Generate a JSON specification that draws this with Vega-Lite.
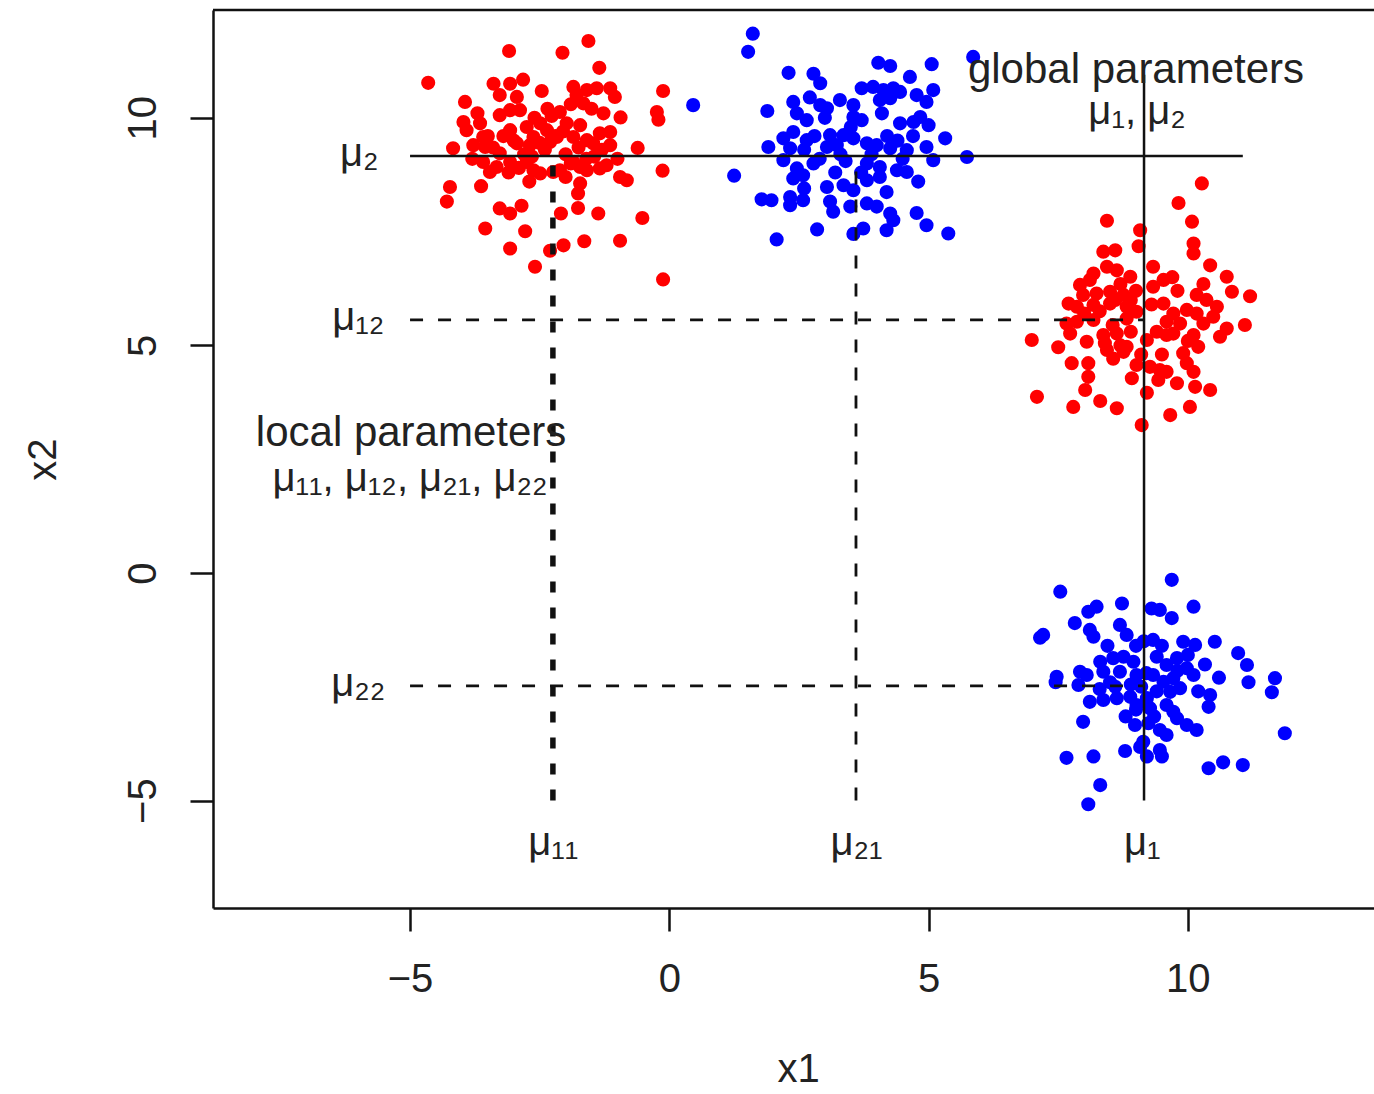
{
  "$schema": "https://vega.github.io/schema/vega-lite/v6.json",
  "width": 1161,
  "height": 898,
  "autosize": {"type": "none"},
  "padding": {"left": 213, "top": 10, "right": 0, "bottom": 186},
  "background": "white",
  "config": {"view": {"stroke": null}},
  "datasets": {
    "points": [
      {"x1":-4.65,"x2":10.77,"class":"1"},{"x1":-3.09,"x2":11.47,"class":"1"},{"x1":-2.06,"x2":11.43,"class":"1"},{"x1":-1.56,"x2":11.69,"class":"1"},{"x1":-1.35,"x2":11.10,"class":"1"},{"x1":-0.12,"x2":10.59,"class":"1"},{"x1":-0.24,"x2":10.13,"class":"1"},{"x1":-0.21,"x2":9.96,"class":"1"},{"x1":-3.94,"x2":10.35,"class":"1"},{"x1":-3.39,"x2":10.75,"class":"1"},{"x1":-3.07,"x2":10.75,"class":"1"},{"x1":-2.82,"x2":10.84,"class":"1"},{"x1":-3.27,"x2":10.50,"class":"1"},{"x1":-2.94,"x2":10.46,"class":"1"},{"x1":-2.46,"x2":10.59,"class":"1"},{"x1":-1.85,"x2":10.68,"class":"1"},{"x1":-1.59,"x2":10.61,"class":"1"},{"x1":-1.40,"x2":10.65,"class":"1"},{"x1":-1.79,"x2":10.50,"class":"1"},{"x1":-1.66,"x2":10.32,"class":"1"},{"x1":-1.14,"x2":10.65,"class":"1"},{"x1":-1.05,"x2":10.46,"class":"1"},{"x1":-1.27,"x2":10.10,"class":"1"},{"x1":-0.94,"x2":10.01,"class":"1"},{"x1":-2.11,"x2":10.13,"class":"1"},{"x1":-2.27,"x2":10.04,"class":"1"},{"x1":-3.97,"x2":9.91,"class":"1"},{"x1":-3.65,"x2":9.88,"class":"1"},{"x1":-3.27,"x2":10.06,"class":"1"},{"x1":-3.07,"x2":10.17,"class":"1"},{"x1":-2.88,"x2":10.17,"class":"1"},{"x1":-3.91,"x2":9.73,"class":"1"},{"x1":-3.59,"x2":9.58,"class":"1"},{"x1":-3.07,"x2":9.73,"class":"1"},{"x1":-2.75,"x2":9.80,"class":"1"},{"x1":-2.49,"x2":9.88,"class":"1"},{"x1":-2.36,"x2":9.73,"class":"1"},{"x1":-1.98,"x2":9.88,"class":"1"},{"x1":-1.72,"x2":9.84,"class":"1"},{"x1":-1.34,"x2":9.66,"class":"1"},{"x1":-1.14,"x2":9.69,"class":"1"},{"x1":-4.17,"x2":9.33,"class":"1"},{"x1":-3.78,"x2":9.40,"class":"1"},{"x1":-3.55,"x2":9.36,"class":"1"},{"x1":-3.27,"x2":9.22,"class":"1"},{"x1":-2.94,"x2":9.44,"class":"1"},{"x1":-2.62,"x2":9.58,"class":"1"},{"x1":-2.69,"x2":9.40,"class":"1"},{"x1":-2.30,"x2":9.47,"class":"1"},{"x1":-2.17,"x2":9.58,"class":"1"},{"x1":-1.85,"x2":9.58,"class":"1"},{"x1":-1.59,"x2":9.51,"class":"1"},{"x1":-1.47,"x2":9.44,"class":"1"},{"x1":-1.14,"x2":9.40,"class":"1"},{"x1":-0.61,"x2":9.34,"class":"1"},{"x1":-3.59,"x2":9.03,"class":"1"},{"x1":-3.33,"x2":8.92,"class":"1"},{"x1":-3.46,"x2":8.81,"class":"1"},{"x1":-3.07,"x2":9.03,"class":"1"},{"x1":-2.75,"x2":9.03,"class":"1"},{"x1":-2.62,"x2":8.85,"class":"1"},{"x1":-2.49,"x2":8.78,"class":"1"},{"x1":-2.24,"x2":8.81,"class":"1"},{"x1":-2.11,"x2":8.85,"class":"1"},{"x1":-1.85,"x2":9.03,"class":"1"},{"x1":-1.72,"x2":8.92,"class":"1"},{"x1":-1.59,"x2":8.85,"class":"1"},{"x1":-1.34,"x2":8.89,"class":"1"},{"x1":-1.21,"x2":8.96,"class":"1"},{"x1":-0.95,"x2":8.70,"class":"1"},{"x1":-0.82,"x2":8.63,"class":"1"},{"x1":-0.13,"x2":8.84,"class":"1"},{"x1":-4.23,"x2":8.48,"class":"1"},{"x1":-4.29,"x2":8.16,"class":"1"},{"x1":-3.63,"x2":8.50,"class":"1"},{"x1":-1.72,"x2":8.56,"class":"1"},{"x1":-1.76,"x2":8.34,"class":"1"},{"x1":-3.27,"x2":8.01,"class":"1"},{"x1":-3.07,"x2":7.90,"class":"1"},{"x1":-2.85,"x2":8.07,"class":"1"},{"x1":-2.09,"x2":7.90,"class":"1"},{"x1":-1.76,"x2":8.02,"class":"1"},{"x1":-1.37,"x2":7.90,"class":"1"},{"x1":-0.52,"x2":7.80,"class":"1"},{"x1":-3.55,"x2":7.57,"class":"1"},{"x1":-2.78,"x2":7.51,"class":"1"},{"x1":-3.07,"x2":7.13,"class":"1"},{"x1":-2.30,"x2":7.08,"class":"1"},{"x1":-2.04,"x2":7.20,"class":"1"},{"x1":-1.64,"x2":7.29,"class":"1"},{"x1":-0.95,"x2":7.30,"class":"1"},{"x1":-2.59,"x2":6.73,"class":"1"},{"x1":-0.12,"x2":6.45,"class":"1"},{"x1":-2.4,"x2":9.3,"class":"1"},{"x1":-2.0,"x2":9.2,"class":"1"},{"x1":-1.6,"x2":9.1,"class":"1"},{"x1":-2.8,"x2":9.2,"class":"1"},{"x1":-3.5,"x2":9.6,"class":"1"},{"x1":-1.3,"x2":9.3,"class":"1"},{"x1":-2.2,"x2":9.6,"class":"1"},{"x1":-3.0,"x2":9.5,"class":"1"},{"x1":-1.9,"x2":9.0,"class":"1"},{"x1":-2.6,"x2":10.0,"class":"1"},{"x1":-3.8,"x2":9.1,"class":"1"},{"x1":-2.9,"x2":8.9,"class":"1"},
      {"x1":-3.2,"x2":9.6,"class":"1"},{"x1":-2.5,"x2":9.45,"class":"1"},{"x1":-1.75,"x2":9.35,"class":"1"},{"x1":-2.05,"x2":9.7,"class":"1"},{"x1":-2.65,"x2":9.15,"class":"1"},{"x1":-3.4,"x2":9.35,"class":"1"},{"x1":-1.45,"x2":9.15,"class":"1"},{"x1":-2.35,"x2":10.2,"class":"1"},{"x1":-1.9,"x2":10.3,"class":"1"},{"x1":-3.1,"x2":8.8,"class":"1"},{"x1":-2.0,"x2":8.7,"class":"1"},{"x1":-1.0,"x2":9.1,"class":"1"},{"x1":-1.5,"x2":10.2,"class":"1"},{"x1":-3.7,"x2":10.1,"class":"1"},{"x1":-2.7,"x2":8.6,"class":"1"},
      {"x1":1.61,"x2":11.85,"class":"2"},{"x1":1.52,"x2":11.45,"class":"2"},{"x1":0.46,"x2":10.28,"class":"2"},{"x1":1.25,"x2":8.73,"class":"2"},{"x1":1.89,"x2":10.15,"class":"2"},{"x1":2.30,"x2":10.99,"class":"2"},{"x1":2.78,"x2":10.97,"class":"2"},{"x1":2.91,"x2":10.76,"class":"2"},{"x1":4.03,"x2":11.21,"class":"2"},{"x1":4.26,"x2":11.14,"class":"2"},{"x1":5.06,"x2":11.18,"class":"2"},{"x1":4.64,"x2":10.90,"class":"2"},{"x1":5.86,"x2":11.34,"class":"2"},{"x1":2.39,"x2":10.35,"class":"2"},{"x1":2.71,"x2":10.45,"class":"2"},{"x1":2.91,"x2":10.28,"class":"2"},{"x1":3.04,"x2":10.21,"class":"2"},{"x1":3.29,"x2":10.39,"class":"2"},{"x1":3.55,"x2":10.28,"class":"2"},{"x1":3.71,"x2":10.65,"class":"2"},{"x1":3.93,"x2":10.68,"class":"2"},{"x1":4.13,"x2":10.61,"class":"2"},{"x1":4.32,"x2":10.65,"class":"2"},{"x1":4.45,"x2":10.57,"class":"2"},{"x1":4.06,"x2":10.39,"class":"2"},{"x1":4.26,"x2":10.43,"class":"2"},{"x1":4.77,"x2":10.50,"class":"2"},{"x1":4.96,"x2":10.35,"class":"2"},{"x1":5.09,"x2":10.61,"class":"2"},{"x1":2.46,"x2":10.10,"class":"2"},{"x1":2.65,"x2":9.95,"class":"2"},{"x1":3.55,"x2":10.02,"class":"2"},{"x1":3.71,"x2":9.95,"class":"2"},{"x1":4.45,"x2":9.88,"class":"2"},{"x1":4.71,"x2":9.91,"class":"2"},{"x1":4.84,"x2":10.02,"class":"2"},{"x1":5.00,"x2":9.84,"class":"2"},{"x1":2.39,"x2":9.69,"class":"2"},{"x1":2.65,"x2":9.51,"class":"2"},{"x1":3.10,"x2":9.62,"class":"2"},{"x1":3.36,"x2":9.62,"class":"2"},{"x1":3.55,"x2":9.55,"class":"2"},{"x1":3.81,"x2":9.44,"class":"2"},{"x1":4.00,"x2":9.40,"class":"2"},{"x1":1.91,"x2":9.36,"class":"2"},{"x1":2.33,"x2":9.33,"class":"2"},{"x1":3.04,"x2":9.36,"class":"2"},{"x1":3.23,"x2":9.40,"class":"2"},{"x1":4.26,"x2":9.33,"class":"2"},{"x1":4.58,"x2":9.29,"class":"2"},{"x1":4.96,"x2":9.36,"class":"2"},{"x1":5.32,"x2":9.55,"class":"2"},{"x1":5.74,"x2":9.14,"class":"2"},{"x1":2.20,"x2":9.07,"class":"2"},{"x1":2.46,"x2":8.89,"class":"2"},{"x1":2.78,"x2":9.00,"class":"2"},{"x1":3.81,"x2":9.00,"class":"2"},{"x1":4.06,"x2":8.92,"class":"2"},{"x1":4.39,"x2":8.85,"class":"2"},{"x1":4.58,"x2":8.81,"class":"2"},{"x1":5.09,"x2":9.07,"class":"2"},{"x1":2.39,"x2":8.67,"class":"2"},{"x1":2.58,"x2":8.74,"class":"2"},{"x1":3.04,"x2":8.48,"class":"2"},{"x1":3.36,"x2":8.52,"class":"2"},{"x1":3.55,"x2":8.41,"class":"2"},{"x1":3.81,"x2":8.63,"class":"2"},{"x1":4.06,"x2":8.70,"class":"2"},{"x1":4.19,"x2":8.37,"class":"2"},{"x1":1.78,"x2":8.21,"class":"2"},{"x1":1.97,"x2":8.19,"class":"2"},{"x1":2.33,"x2":8.26,"class":"2"},{"x1":2.58,"x2":8.19,"class":"2"},{"x1":2.33,"x2":8.08,"class":"2"},{"x1":3.10,"x2":8.16,"class":"2"},{"x1":3.16,"x2":7.94,"class":"2"},{"x1":3.49,"x2":8.05,"class":"2"},{"x1":3.81,"x2":8.12,"class":"2"},{"x1":4.00,"x2":8.05,"class":"2"},{"x1":4.26,"x2":7.90,"class":"2"},{"x1":4.32,"x2":7.75,"class":"2"},{"x1":4.19,"x2":7.53,"class":"2"},{"x1":4.77,"x2":7.91,"class":"2"},{"x1":4.96,"x2":7.64,"class":"2"},{"x1":5.38,"x2":7.46,"class":"2"},{"x1":2.85,"x2":7.55,"class":"2"},{"x1":2.07,"x2":7.33,"class":"2"},{"x1":3.74,"x2":7.57,"class":"2"},{"x1":3.55,"x2":7.45,"class":"2"},{"x1":3.3,"x2":9.2,"class":"2"},{"x1":2.9,"x2":9.1,"class":"2"},{"x1":3.9,"x2":9.2,"class":"2"},{"x1":4.5,"x2":9.1,"class":"2"},{"x1":2.6,"x2":9.3,"class":"2"},{"x1":4.2,"x2":9.6,"class":"2"},
      {"x1":2.8,"x2":9.6,"class":"2"},{"x1":3.5,"x2":9.8,"class":"2"},{"x1":4.1,"x2":10.1,"class":"2"},{"x1":3.2,"x2":8.8,"class":"2"},{"x1":2.6,"x2":8.45,"class":"2"},{"x1":4.7,"x2":9.6,"class":"2"},{"x1":3.7,"x2":8.8,"class":"2"},{"x1":3.0,"x2":10.0,"class":"2"},{"x1":4.4,"x2":9.5,"class":"2"},{"x1":2.2,"x2":9.55,"class":"2"},{"x1":3.4,"x2":9.05,"class":"2"},{"x1":4.8,"x2":8.6,"class":"2"},
      {"x1":10.27,"x2":8.56,"class":"1"},{"x1":9.82,"x2":8.13,"class":"1"},{"x1":8.44,"x2":7.74,"class":"1"},{"x1":9.08,"x2":7.53,"class":"1"},{"x1":10.08,"x2":7.72,"class":"1"},{"x1":9.05,"x2":7.18,"class":"1"},{"x1":10.11,"x2":7.24,"class":"1"},{"x1":10.11,"x2":7.02,"class":"1"},{"x1":8.37,"x2":7.06,"class":"1"},{"x1":8.60,"x2":7.09,"class":"1"},{"x1":10.43,"x2":6.76,"class":"1"},{"x1":8.44,"x2":6.73,"class":"1"},{"x1":8.63,"x2":6.65,"class":"1"},{"x1":8.18,"x2":6.58,"class":"1"},{"x1":9.33,"x2":6.73,"class":"1"},{"x1":10.75,"x2":6.51,"class":"1"},{"x1":7.92,"x2":6.33,"class":"1"},{"x1":8.11,"x2":6.44,"class":"1"},{"x1":8.89,"x2":6.51,"class":"1"},{"x1":9.53,"x2":6.44,"class":"1"},{"x1":9.33,"x2":6.29,"class":"1"},{"x1":10.85,"x2":6.18,"class":"1"},{"x1":11.20,"x2":6.08,"class":"1"},{"x1":7.98,"x2":6.11,"class":"1"},{"x1":8.24,"x2":6.14,"class":"1"},{"x1":8.50,"x2":6.18,"class":"1"},{"x1":8.76,"x2":6.11,"class":"1"},{"x1":10.17,"x2":6.11,"class":"1"},{"x1":10.36,"x2":6.00,"class":"1"},{"x1":10.56,"x2":5.85,"class":"1"},{"x1":7.70,"x2":5.92,"class":"1"},{"x1":7.86,"x2":5.85,"class":"1"},{"x1":8.18,"x2":5.89,"class":"1"},{"x1":8.50,"x2":5.92,"class":"1"},{"x1":8.82,"x2":5.85,"class":"1"},{"x1":9.01,"x2":5.74,"class":"1"},{"x1":9.53,"x2":5.92,"class":"1"},{"x1":9.72,"x2":5.70,"class":"1"},{"x1":9.98,"x2":5.78,"class":"1"},{"x1":10.17,"x2":5.70,"class":"1"},{"x1":7.66,"x2":5.48,"class":"1"},{"x1":7.86,"x2":5.52,"class":"1"},{"x1":8.18,"x2":5.56,"class":"1"},{"x1":8.82,"x2":5.59,"class":"1"},{"x1":9.59,"x2":5.52,"class":"1"},{"x1":9.85,"x2":5.48,"class":"1"},{"x1":10.30,"x2":5.48,"class":"1"},{"x1":10.49,"x2":5.63,"class":"1"},{"x1":11.10,"x2":5.45,"class":"1"},{"x1":6.99,"x2":5.12,"class":"1"},{"x1":7.50,"x2":4.96,"class":"1"},{"x1":7.73,"x2":5.26,"class":"1"},{"x1":8.05,"x2":5.08,"class":"1"},{"x1":8.37,"x2":5.23,"class":"1"},{"x1":8.63,"x2":5.26,"class":"1"},{"x1":8.82,"x2":4.97,"class":"1"},{"x1":8.44,"x2":4.90,"class":"1"},{"x1":8.56,"x2":4.71,"class":"1"},{"x1":8.76,"x2":4.86,"class":"1"},{"x1":9.21,"x2":5.12,"class":"1"},{"x1":9.59,"x2":5.23,"class":"1"},{"x1":9.72,"x2":5.26,"class":"1"},{"x1":10.11,"x2":5.23,"class":"1"},{"x1":10.20,"x2":4.97,"class":"1"},{"x1":10.62,"x2":5.19,"class":"1"},{"x1":10.75,"x2":5.37,"class":"1"},{"x1":9.91,"x2":4.83,"class":"1"},{"x1":9.98,"x2":4.61,"class":"1"},{"x1":7.76,"x2":4.61,"class":"1"},{"x1":8.08,"x2":4.61,"class":"1"},{"x1":8.08,"x2":4.31,"class":"1"},{"x1":9.01,"x2":4.57,"class":"1"},{"x1":9.27,"x2":4.53,"class":"1"},{"x1":9.46,"x2":4.46,"class":"1"},{"x1":9.59,"x2":4.42,"class":"1"},{"x1":8.92,"x2":4.28,"class":"1"},{"x1":9.43,"x2":4.24,"class":"1"},{"x1":9.79,"x2":4.17,"class":"1"},{"x1":10.11,"x2":4.42,"class":"1"},{"x1":10.14,"x2":4.09,"class":"1"},{"x1":10.43,"x2":4.02,"class":"1"},{"x1":8.02,"x2":4.02,"class":"1"},{"x1":7.09,"x2":3.87,"class":"1"},{"x1":7.79,"x2":3.65,"class":"1"},{"x1":8.31,"x2":3.78,"class":"1"},{"x1":8.63,"x2":3.62,"class":"1"},{"x1":9.21,"x2":3.96,"class":"1"},{"x1":9.66,"x2":3.47,"class":"1"},{"x1":10.04,"x2":3.65,"class":"1"},{"x1":9.11,"x2":3.25,"class":"1"},{"x1":8.6,"x2":6.0,"class":"1"},{"x1":8.3,"x2":5.75,"class":"1"},{"x1":8.9,"x2":5.3,"class":"1"},{"x1":8.7,"x2":5.0,"class":"1"},{"x1":9.0,"x2":6.2,"class":"1"},{"x1":8.55,"x2":5.45,"class":"1"},
      {"x1":9.3,"x2":5.9,"class":"1"},{"x1":8.9,"x2":6.0,"class":"1"},{"x1":9.8,"x2":6.2,"class":"1"},{"x1":9.4,"x2":5.3,"class":"1"},{"x1":8.4,"x2":5.05,"class":"1"},{"x1":10.0,"x2":5.1,"class":"1"},{"x1":8.0,"x2":5.7,"class":"1"},{"x1":9.1,"x2":4.8,"class":"1"},{"x1":9.7,"x2":6.5,"class":"1"},{"x1":10.3,"x2":6.35,"class":"1"},{"x1":8.7,"x2":6.35,"class":"1"},{"x1":9.5,"x2":4.8,"class":"1"},
      {"x1":9.69,"x2":-0.15,"class":"2"},{"x1":7.54,"x2":-0.41,"class":"2"},{"x1":8.24,"x2":-0.74,"class":"2"},{"x1":8.08,"x2":-0.85,"class":"2"},{"x1":8.73,"x2":-0.67,"class":"2"},{"x1":9.30,"x2":-0.78,"class":"2"},{"x1":9.46,"x2":-0.81,"class":"2"},{"x1":9.69,"x2":-0.99,"class":"2"},{"x1":10.11,"x2":-0.74,"class":"2"},{"x1":7.21,"x2":-1.36,"class":"2"},{"x1":7.15,"x2":-1.42,"class":"2"},{"x1":7.82,"x2":-1.10,"class":"2"},{"x1":8.11,"x2":-1.25,"class":"2"},{"x1":8.18,"x2":-1.40,"class":"2"},{"x1":8.69,"x2":-1.14,"class":"2"},{"x1":8.82,"x2":-1.36,"class":"2"},{"x1":9.33,"x2":-1.47,"class":"2"},{"x1":9.91,"x2":-1.51,"class":"2"},{"x1":10.14,"x2":-1.58,"class":"2"},{"x1":10.52,"x2":-1.51,"class":"2"},{"x1":10.97,"x2":-1.76,"class":"2"},{"x1":11.14,"x2":-2.02,"class":"2"},{"x1":11.17,"x2":-2.40,"class":"2"},{"x1":11.68,"x2":-2.31,"class":"2"},{"x1":11.62,"x2":-2.62,"class":"2"},{"x1":11.87,"x2":-3.52,"class":"2"},{"x1":7.47,"x2":-2.28,"class":"2"},{"x1":7.45,"x2":-2.40,"class":"2"},{"x1":7.92,"x2":-2.17,"class":"2"},{"x1":8.05,"x2":-2.24,"class":"2"},{"x1":8.31,"x2":-1.95,"class":"2"},{"x1":8.37,"x2":-2.17,"class":"2"},{"x1":8.56,"x2":-1.87,"class":"2"},{"x1":8.76,"x2":-1.84,"class":"2"},{"x1":8.95,"x2":-1.95,"class":"2"},{"x1":8.69,"x2":-2.17,"class":"2"},{"x1":9.01,"x2":-2.24,"class":"2"},{"x1":7.89,"x2":-2.46,"class":"2"},{"x1":9.40,"x2":-1.84,"class":"2"},{"x1":9.79,"x2":-1.87,"class":"2"},{"x1":9.59,"x2":-2.02,"class":"2"},{"x1":9.98,"x2":-2.09,"class":"2"},{"x1":10.11,"x2":-2.24,"class":"2"},{"x1":10.33,"x2":-2.01,"class":"2"},{"x1":9.33,"x2":-2.24,"class":"2"},{"x1":9.53,"x2":-2.39,"class":"2"},{"x1":9.72,"x2":-2.31,"class":"2"},{"x1":9.85,"x2":-2.53,"class":"2"},{"x1":9.66,"x2":-2.61,"class":"2"},{"x1":8.11,"x2":-2.83,"class":"2"},{"x1":8.37,"x2":-2.79,"class":"2"},{"x1":8.63,"x2":-2.75,"class":"2"},{"x1":8.89,"x2":-2.72,"class":"2"},{"x1":9.01,"x2":-2.90,"class":"2"},{"x1":9.21,"x2":-2.75,"class":"2"},{"x1":9.27,"x2":-2.97,"class":"2"},{"x1":9.59,"x2":-2.90,"class":"2"},{"x1":9.72,"x2":-3.05,"class":"2"},{"x1":9.79,"x2":-3.19,"class":"2"},{"x1":10.43,"x2":-2.68,"class":"2"},{"x1":10.40,"x2":-2.94,"class":"2"},{"x1":7.98,"x2":-3.27,"class":"2"},{"x1":8.98,"x2":-3.34,"class":"2"},{"x1":9.24,"x2":-3.30,"class":"2"},{"x1":9.46,"x2":-3.45,"class":"2"},{"x1":9.59,"x2":-3.56,"class":"2"},{"x1":9.98,"x2":-3.34,"class":"2"},{"x1":10.17,"x2":-3.45,"class":"2"},{"x1":9.14,"x2":-3.71,"class":"2"},{"x1":9.21,"x2":-4.03,"class":"2"},{"x1":9.46,"x2":-3.89,"class":"2"},{"x1":9.50,"x2":-4.03,"class":"2"},{"x1":9.08,"x2":-3.82,"class":"2"},{"x1":8.79,"x2":-3.91,"class":"2"},{"x1":7.66,"x2":-4.06,"class":"2"},{"x1":8.18,"x2":-4.03,"class":"2"},{"x1":10.40,"x2":-4.29,"class":"2"},{"x1":10.68,"x2":-4.16,"class":"2"},{"x1":11.06,"x2":-4.22,"class":"2"},{"x1":8.31,"x2":-4.66,"class":"2"},{"x1":8.08,"x2":-5.08,"class":"2"},{"x1":9.15,"x2":-1.5,"class":"2"},{"x1":9.2,"x2":-2.2,"class":"2"},{"x1":9.0,"x2":-3.0,"class":"2"},{"x1":9.1,"x2":-2.5,"class":"2"},{"x1":8.5,"x2":-2.4,"class":"2"},{"x1":9.4,"x2":-2.6,"class":"2"},
      {"x1":8.6,"x2":-2.5,"class":"2"},{"x1":9.5,"x2":-1.6,"class":"2"},{"x1":9.8,"x2":-2.15,"class":"2"},{"x1":8.9,"x2":-2.45,"class":"2"},{"x1":10.2,"x2":-2.6,"class":"2"},{"x1":8.3,"x2":-2.55,"class":"2"},{"x1":9.35,"x2":-3.15,"class":"2"},{"x1":8.8,"x2":-3.15,"class":"2"},{"x1":10.0,"x2":-1.8,"class":"2"},{"x1":9.0,"x2":-1.6,"class":"2"},{"x1":10.6,"x2":-2.3,"class":"2"},{"x1":8.45,"x2":-1.6,"class":"2"}
    ],
    "segments": [
      {"x1":-5,"x2":9.16,"x1end":11.06,"x2end":9.16,"style":"solid"},
      {"x1":9.155,"x2":-5,"x1end":9.155,"x2end":10.95,"style":"solid"},
      {"x1":-5,"x2":5.56,"x1end":9.155,"x2end":5.56,"style":"dashed"},
      {"x1":-5,"x2":-2.48,"x1end":9.155,"x2end":-2.48,"style":"dashed"},
      {"x1":3.6,"x2":-5,"x1end":3.6,"x2end":9.16,"style":"dashed"},
      {"x1":-2.245,"x2":-5,"x1end":-2.245,"x2end":9.16,"style":"dotted"}
    ],
    "labels": [
      {"x1":-5.98,"x2":9.2,"text":"μ₂","kind":"mu"},
      {"x1":-6.0,"x2":5.6,"text":"μ₁₂","kind":"mu"},
      {"x1":-6.0,"x2":-2.44,"text":"μ₂₂","kind":"mu"},
      {"x1":-2.24,"x2":-5.93,"text":"μ₁₁","kind":"mu"},
      {"x1":3.61,"x2":-5.93,"text":"μ₂₁","kind":"mu"},
      {"x1":9.12,"x2":-5.93,"text":"μ₁","kind":"mu"},
      {"x1":9.02,"x2":10.12,"text":"μ₁, μ₂","kind":"mu"},
      {"x1":-5.0,"x2":2.06,"text":"μ₁₁, μ₁₂, μ₂₁, μ₂₂","kind":"mu"},
      {"x1":9.0,"x2":11.05,"text":"global parameters","kind":"head"},
      {"x1":-4.98,"x2":3.07,"text":"local parameters","kind":"head"}
    ]
  },
  "layer": [
    {
      "data": {"name": "points"},
      "mark": {"type": "circle", "size": 200, "opacity": 1},
      "encoding": {
        "x": {"field": "x1", "type": "quantitative",
          "scale": {"domain": [-8.8, 13.59], "nice": false, "zero": false},
          "axis": {"values": [-5, 0, 5, 10], "grid": false, "domain": true, "domainColor": "#111", "domainWidth": 2.5,
            "tickColor": "#111", "tickWidth": 2.5, "tickSize": 23,
            "labelFont": "Liberation Sans", "labelFontSize": 40, "labelColor": "#222", "labelPadding": 28, "labelFlush": false,
            "title": "x1", "titleFont": "Liberation Sans", "titleFontSize": 40, "titleFontWeight": "normal", "titleColor": "#222",
            "titlePadding": 50, "titleX": 585}},
        "y": {"field": "x2", "type": "quantitative",
          "scale": {"domain": [-7.36, 12.37], "nice": false, "zero": false},
          "axis": {"values": [-5, 0, 5, 10], "grid": false, "domain": true, "domainColor": "#111", "domainWidth": 2.5,
            "tickColor": "#111", "tickWidth": 2.5, "tickSize": 23,
            "labelFont": "Liberation Sans", "labelFontSize": 40, "labelColor": "#222", "labelPadding": 27, "labelFlush": false,
            "labelAngle": -90, "labelAlign": "center", "labelBaseline": "bottom",
            "title": "x2", "titleFont": "Liberation Sans", "titleFontSize": 40, "titleFontWeight": "normal", "titleColor": "#222",
            "titlePadding": 60}},
        "color": {"field": "class", "type": "nominal", "scale": {"domain": ["1", "2"], "range": ["#FF0000", "#0000FF"]}, "legend": null}
      }
    },
    {
      "data": {"name": "segments"},
      "transform": [{"filter": "datum.style === 'solid'"}],
      "mark": {"type": "rule", "color": "#111", "strokeWidth": 2.5},
      "encoding": {
        "x": {"field": "x1", "type": "quantitative"},
        "y": {"field": "x2", "type": "quantitative"},
        "x2": {"field": "x1end"},
        "y2": {"field": "x2end"}
      }
    },
    {
      "data": {"name": "segments"},
      "transform": [{"filter": "datum.style === 'dashed'"}],
      "mark": {"type": "rule", "color": "#111", "strokeWidth": 2.8, "strokeDash": [13, 15]},
      "encoding": {
        "x": {"field": "x1", "type": "quantitative"},
        "y": {"field": "x2", "type": "quantitative"},
        "x2": {"field": "x1end"},
        "y2": {"field": "x2end"}
      }
    },
    {
      "data": {"name": "segments"},
      "transform": [{"filter": "datum.style === 'dotted'"}],
      "mark": {"type": "rule", "color": "#111", "strokeWidth": 5.5, "strokeDash": [11, 15]},
      "encoding": {
        "x": {"field": "x1", "type": "quantitative"},
        "y": {"field": "x2", "type": "quantitative"},
        "x2": {"field": "x1end"},
        "y2": {"field": "x2end"}
      }
    },
    {
      "data": {"values": [{"edge": "top"}]},
      "mark": {"type": "rule", "color": "#111", "strokeWidth": 2.5},
      "encoding": {"y": {"datum": 12.37, "type": "quantitative"}}
    },
    {
      "data": {"name": "labels"},
      "transform": [{"filter": "datum.kind === 'mu'"}],
      "mark": {"type": "text", "font": "Liberation Sans", "fontSize": 40, "color": "#222", "align": "center", "baseline": "middle"},
      "encoding": {
        "x": {"field": "x1", "type": "quantitative"},
        "y": {"field": "x2", "type": "quantitative"},
        "text": {"field": "text"}
      }
    },
    {
      "data": {"name": "labels"},
      "transform": [{"filter": "datum.kind === 'head'"}],
      "mark": {"type": "text", "font": "Liberation Sans", "fontSize": 42, "color": "#222", "align": "center", "baseline": "middle"},
      "encoding": {
        "x": {"field": "x1", "type": "quantitative"},
        "y": {"field": "x2", "type": "quantitative"},
        "text": {"field": "text"}
      }
    }
  ]
}
